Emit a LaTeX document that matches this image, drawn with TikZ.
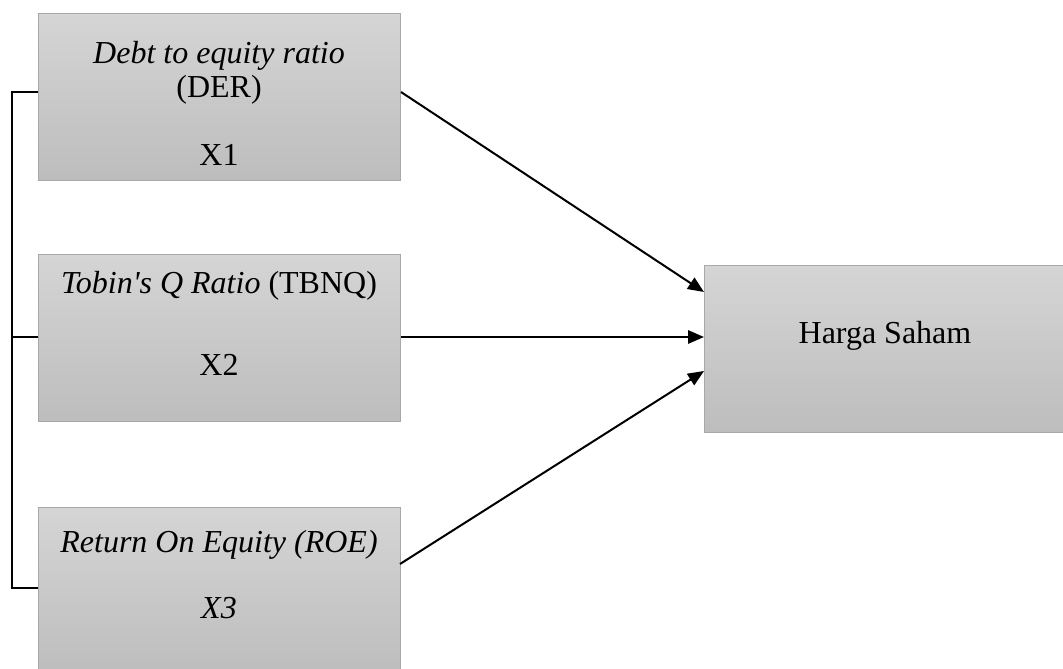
\documentclass[tikz,border=0pt]{standalone}
\usepackage{fontspec}
\setmainfont{Liberation Serif}
\usetikzlibrary{arrows.meta}
\definecolor{boxtop}{HTML}{D5D5D5}
\definecolor{boxbot}{HTML}{BDBDBD}
\definecolor{boxline}{HTML}{A8A8A8}
\tikzset{
  varbox/.style={rectangle, draw=boxline, line width=0.75pt, top color=boxtop,
    bottom color=boxbot, minimum width=271.5pt, minimum height=125.25pt,
    anchor=north west, inner sep=0pt},
  txt/.style={anchor=base, inner sep=0pt, font=\fontsize{24}{29}\selectfont},
  link/.style={line width=1.5pt},
  arr/.style={link, -{Triangle[length=12pt,width=10pt]}}
}
\begin{document}
\begin{tikzpicture}[x=0.75pt,y=-0.75pt]
\useasboundingbox (0,0) rectangle (1063,668);

% variable boxes
\node[varbox] (der) at (38,13) {};
\node[varbox] (tbnq) at (38,254) {};
\node[varbox] (roe) at (38,507) {};
\node[varbox] (harga) at (704,265) {};

% texts
\node[txt] (derA) at (219,63) {\textit{Debt to equity ratio}};
\node[txt] (derB) at (219,97) {(DER)};
\node[txt] (derC) at (219,165) {X1};
\node[txt] (tbnqA) at (219,293) {\textit{Tobin\textquotesingle s Q Ratio} (TBNQ)};
\node[txt] (tbnqB) at (219,375) {X2};
\node[txt] (roeA) at (219,552) {\textit{Return On Equity (ROE)}};
\node[txt] (roeB) at (219,618) {\textit{X3}};
\node[txt] (hargaA) at (885,343) {Harga Saham};

% bracket on the left
\coordinate (brA) at (12,92);
\coordinate (brB) at (12,337);
\coordinate (brC) at (12,588);
\draw[link] (brA -| der.west) -- (brA) -- (brC) -- (brC -| roe.west);
\draw[link] (brB) -- (brB -| tbnq.west);

% arrows to Harga Saham
\coordinate (inA) at (704,292);
\coordinate (inB) at (704,337);
\coordinate (inC) at (704,371);
\coordinate (outC) at (400,564);
\draw[arr] (brA -| der.east) -- (inA);
\draw[arr] (brB -| tbnq.east) -- (inB);
\draw[arr] (outC) -- (inC);
\end{tikzpicture}
\end{document}
